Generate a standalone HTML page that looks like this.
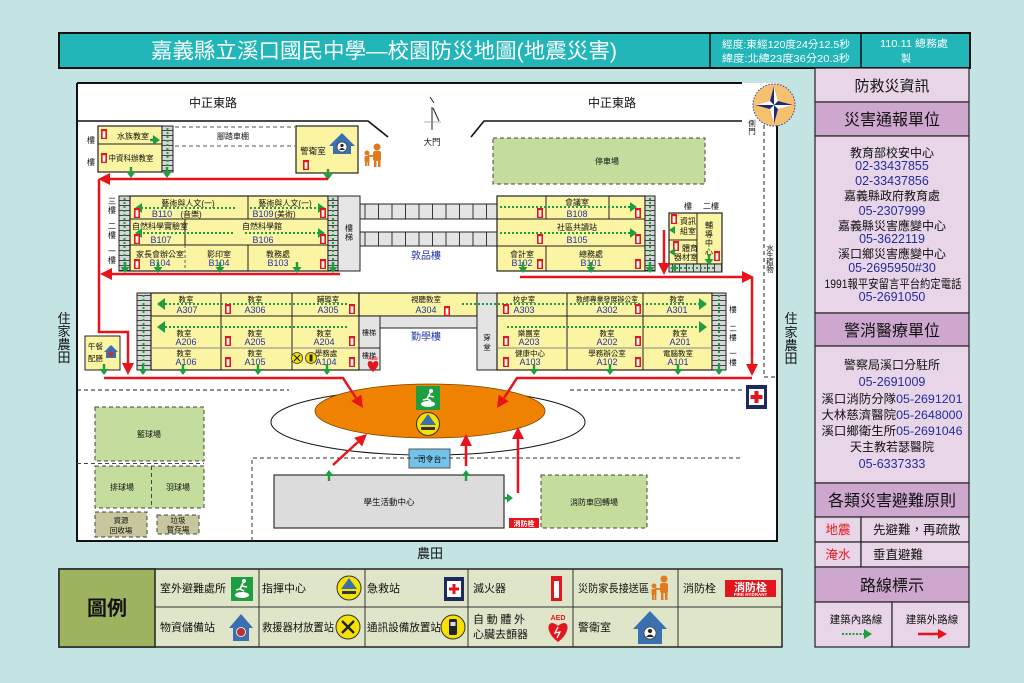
<!DOCTYPE html>
<html><head><meta charset="utf-8"><style>
html,body{margin:0;padding:0;background:#c4e4e4;}
svg{display:block;}
text{font-family:"Liberation Sans","Noto Sans CJK TC",sans-serif;}
</style></head><body>
<svg width="1024" height="683" viewBox="0 0 1024 683" xmlns="http://www.w3.org/2000/svg">
<defs>
 <g id="gd"><rect x="-1.2" y="-5" width="2.4" height="5" fill="#1e9e40"/><path d="M-4.5,0 H4.5 L0,6 Z" fill="#1e9e40"/></g>
 <g id="gu"><rect x="-1.2" y="0" width="2.4" height="5" fill="#1e9e40"/><path d="M-4.5,0 H4.5 L0,-6 Z" fill="#1e9e40"/></g>
 <g id="fe"><rect x="0" y="0" width="6" height="10" fill="#e3161d"/><rect x="1.6" y="2.2" width="2.8" height="6.6" fill="#fff"/></g>
 <pattern id="stV" width="14" height="5" patternUnits="userSpaceOnUse"><rect width="14" height="5" fill="#d6d6d6"/><line x1="0" y1="0.4" x2="14" y2="0.4" stroke="#222" stroke-width="0.8"/></pattern>
 <pattern id="stH" width="13.5" height="20" patternUnits="userSpaceOnUse"><rect width="13.5" height="20" fill="#e4e4e4"/><line x1="0.5" y1="0" x2="0.5" y2="20" stroke="#222" stroke-width="0.9"/></pattern>
 <pattern id="stH2" width="7" height="10" patternUnits="userSpaceOnUse"><rect width="7" height="10" fill="#d6d6d6"/><line x1="0.5" y1="0" x2="0.5" y2="10" stroke="#222" stroke-width="0.8"/></pattern>
</defs>

<!-- Header -->
<rect x="59" y="33" width="911" height="35" fill="#22b6b9" stroke="#111" stroke-width="2"/>
<line x1="710" y1="33" x2="710" y2="68" stroke="#111" stroke-width="1.5"/>
<line x1="861" y1="33" x2="861" y2="68" stroke="#111" stroke-width="1.5"/>
<text x="384" y="58" font-size="21" fill="#fff" text-anchor="middle" textLength="466" lengthAdjust="spacingAndGlyphs">嘉義縣立溪口國民中學—校園防災地圖(地震災害)</text>
<text x="786" y="48" font-size="10" fill="#fff" text-anchor="middle" textLength="128" lengthAdjust="spacingAndGlyphs">經度:東經120度24分12.5秒</text>
<text x="786" y="62" font-size="10" fill="#fff" text-anchor="middle" textLength="128" lengthAdjust="spacingAndGlyphs">緯度:北緯23度36分20.3秒</text>
<text x="914" y="47" font-size="10" fill="#fff" text-anchor="middle" textLength="68" lengthAdjust="spacingAndGlyphs">110.11 總務處</text>
<text x="906" y="62" font-size="10" fill="#fff" text-anchor="middle">製</text>

<!-- side labels -->
<g font-size="13" fill="#111" text-anchor="middle">
<text x="64" y="323">住</text><text x="64" y="336">家</text><text x="64" y="349">農</text><text x="64" y="362">田</text>
<text x="791" y="323">住</text><text x="791" y="337">家</text><text x="791" y="350">農</text><text x="791" y="363">田</text>
<text x="430" y="558">農田</text>
</g>

<!-- Map area -->
<rect x="77" y="83" width="700" height="458" fill="#fff"/>
<path d="M77,83 H742" stroke="#111" stroke-width="2"/>
<path d="M77,83 V541 H777 V120" stroke="#111" stroke-width="2" fill="none"/>
<g font-size="12" fill="#111" text-anchor="middle">
<text x="213" y="107">中正東路</text><text x="612" y="107">中正東路</text>
</g>
<path d="M77,121 H368 L388,137" stroke="#111" stroke-width="1.6" fill="none"/>
<path d="M471,137 L484,121 H742" stroke="#111" stroke-width="1.6" fill="none"/>
<!-- gate -->
<path d="M430,97 L434,103 M432,107 V130 M433,108 L439,121" stroke="#222" stroke-width="1" fill="none"/>
<line x1="424" y1="122" x2="441" y2="122" stroke="#999" stroke-width="0.8"/>
<text x="432" y="145" font-size="8.5" text-anchor="middle" fill="#111">大門</text>
<!-- side gate & dashed right -->
<g font-size="7.5" fill="#111" text-anchor="middle">
<text x="752" y="126">側</text><text x="752" y="134">門</text>
<text x="770" y="251">水</text><text x="770" y="258">生</text><text x="770" y="265">植</text><text x="770" y="272">物</text>
</g>
<path d="M764,125 V377 H776" stroke="#222" stroke-width="1" stroke-dasharray="4,3" fill="none"/>

<!-- compass -->
<circle cx="774" cy="105" r="21" fill="#f6c16e" stroke="#3a3aa0" stroke-width="1" stroke-dasharray="1.5,1.5"/>
<path d="M774,86 L778,101 L793,105 L778,109 L774,124 L770,109 L755,105 L770,101 Z" fill="#1c2a7c"/>
<path d="M774,86 L778,101 L774,105 Z M793,105 L778,109 L774,105 Z M774,124 L770,109 L774,105 Z M755,105 L770,101 L774,105 Z" fill="#fff"/>

<!-- parking -->
<rect x="493" y="138" width="212" height="46" fill="#c4dc9c" stroke="#444" stroke-dasharray="4,3"/>
<text x="607" y="164" font-size="8" text-anchor="middle" fill="#111">停車場</text>

<!-- bike shed -->
<path d="M175,127 H295 M175,146 H295" stroke="#555" stroke-dasharray="4,3" fill="none"/>
<text x="233" y="139" font-size="8" text-anchor="middle" fill="#111">腳踏車棚</text>

<!-- Building 1 top-left -->
<rect x="98" y="126" width="64" height="46" fill="#fbf4a2" stroke="#222" stroke-width="1.2"/>
<line x1="98" y1="144" x2="162" y2="144" stroke="#222"/>
<rect x="162" y="126" width="11" height="46" fill="url(#stV)" stroke="#222"/>
<line x1="167.5" y1="128" x2="167.5" y2="168" stroke="#1e9e40" stroke-width="2" stroke-dasharray="2,2"/>
<g font-size="8" text-anchor="middle" fill="#111">
<text x="133" y="139">水族教室</text>
<text x="131" y="161" textLength="45" lengthAdjust="spacingAndGlyphs">中資科辦教室</text>
<text x="91" y="143">樓</text><text x="91" y="165">樓</text>
</g>
<use href="#fe" x="101" y="129"/><use href="#fe" x="101" y="153"/>
<line x1="150" y1="140" x2="154" y2="140" stroke="#1e9e40" stroke-width="2.5"/>
<path d="M160,140 l-7,-5 v10 z" fill="#1e9e40"/>
<use href="#gd" x="131" y="172"/><use href="#gd" x="167" y="172"/>

<!-- Guard room -->
<rect x="296" y="126" width="62" height="47" fill="#fbf4a2" stroke="#222" stroke-width="1.2"/>
<text x="313" y="154" font-size="8.5" text-anchor="middle" fill="#111">警衛室</text>
<path d="M329,146 L342,133 L355,146 Z" fill="#3a6fb0"/>
<rect x="333" y="142" width="18" height="12" fill="#3a6fb0"/>
<circle cx="342" cy="147" r="5" fill="#fff" stroke="#222" stroke-width="0.6"/>
<circle cx="342" cy="145.5" r="1.6" fill="#222"/><path d="M339,150 Q342,146 345,150 Z" fill="#222"/>
<use href="#fe" x="303" y="160"/>
<use href="#gd" x="328" y="174"/>
<!-- parents icon -->
<g fill="#e07a1e">
<circle cx="377" cy="147" r="3.5"/><rect x="373" y="151" width="8" height="10" rx="2"/><rect x="374" y="160" width="2.5" height="7"/><rect x="378" y="160" width="2.5" height="7"/>
<circle cx="367" cy="153" r="2.5"/><rect x="364.5" y="156" width="5" height="6" rx="1.5"/><rect x="365" y="161" width="1.8" height="5"/><rect x="367.5" y="161" width="1.8" height="5"/>
<rect x="368" y="155" width="6" height="1.8"/>
</g>

<!-- Building B -->
<rect x="119" y="196" width="11" height="75" fill="url(#stV)" stroke="#222"/>
<rect x="130" y="196" width="198" height="75" fill="#fbf4a2" stroke="#222" stroke-width="1.2"/>
<rect x="328" y="196" width="10" height="75" fill="url(#stV)" stroke="#222"/>
<rect x="338" y="196" width="22" height="75" fill="#e6e6e6" stroke="#222"/>
<path d="M130,219 H328 M130,245 H328 M248,196 V219 M185,219 V245 M248,245 V271" stroke="#222" stroke-width="1" fill="none"/>
<line x1="185" y1="245" x2="185" y2="271" stroke="#666" stroke-dasharray="3,2"/>
<g font-size="8" text-anchor="middle" fill="#111">
<text x="349" y="231">樓</text><text x="349" y="240">梯</text>
<text x="112" y="204">三</text><text x="112" y="213">樓</text>
<text x="112" y="229">二</text><text x="112" y="238">樓</text>
<text x="112" y="254">一</text><text x="112" y="263">樓</text>
<text x="188" y="206">藝術與人文(一)</text>
<text x="285" y="206">藝術與人文(一)</text>
<text x="160" y="229">自然科學實驗室</text>
<text x="262" y="229">自然科學館</text>
<text x="160" y="257">家長會辦公室</text>
<text x="219" y="257">影印室</text>
<text x="278" y="257">教務處</text>
<text x="285" y="217">(美術)</text>
<text x="191" y="217">(音樂)</text>
</g>
<g font-size="9" text-anchor="middle" fill="#2233aa">
<text x="162" y="217">B110</text><text x="263" y="217">B109</text>
<text x="161" y="243">B107</text><text x="263" y="243">B106</text>
<text x="160" y="266">B104</text><text x="219" y="266">B104</text><text x="278" y="266">B103</text>
</g>
<g stroke="#1e9e40" stroke-width="2" stroke-dasharray="2,2" fill="none">
<path d="M235,208 H141 M250,208 H319 M233,233 H141 M245,233 H319"/>
<path d="M124.5,198 V266 M333,198 V266"/>
</g>
<g fill="#1e9e40">
<path d="M135,208 l7,-5 v10 z"/><path d="M325,208 l-7,-5 v10 z"/>
<path d="M135,233 l7,-5 v10 z"/><path d="M325,233 l-7,-5 v10 z"/>
</g>
<use href="#fe" x="134" y="208"/><use href="#fe" x="320" y="208"/>
<use href="#fe" x="134" y="234"/><use href="#fe" x="320" y="234"/>
<use href="#fe" x="134" y="259"/><use href="#fe" x="320" y="259"/>

<!-- corridors -->
<rect x="360" y="204" width="137" height="15" fill="url(#stH)" stroke="#222"/>
<rect x="360" y="232" width="137" height="14" fill="url(#stH)" stroke="#222"/>
<text x="426" y="259" font-size="10" text-anchor="middle" fill="#2233aa">敦品樓</text>

<!-- Building D -->
<rect x="497" y="196" width="148" height="75" fill="#fbf4a2" stroke="#222" stroke-width="1.2"/>
<rect x="645" y="196" width="10" height="75" fill="url(#stV)" stroke="#222"/>
<path d="M497,219 H645 M497,246 H645 M546,196 V219 M609,196 V219 M546,246 V271" stroke="#222" fill="none"/>
<g font-size="8" text-anchor="middle" fill="#111">
<text x="577" y="205">會議室</text>
<text x="577" y="230">社區共讀站</text>
<text x="522" y="257">會計室</text>
<text x="591" y="257">總務處</text>
</g>
<g font-size="9" text-anchor="middle" fill="#2233aa">
<text x="577" y="217">B108</text><text x="577" y="243">B105</text>
<text x="522" y="266">B102</text><text x="591" y="266">B101</text>
</g>
<g stroke="#1e9e40" stroke-width="2" stroke-dasharray="2,2" fill="none">
<path d="M500,207 H631 M500,233 H631 M650,198 V266"/>
</g>
<g fill="#1e9e40"><path d="M637,207 l-7,-5 v10 z"/><path d="M637,233 l-7,-5 v10 z"/></g>
<use href="#fe" x="537" y="208"/><use href="#fe" x="635" y="208"/>
<use href="#fe" x="537" y="234"/><use href="#fe" x="635" y="234"/>
<use href="#fe" x="537" y="259"/><use href="#fe" x="635" y="259"/>

<!-- Building E -->
<rect x="669" y="213" width="53" height="51" fill="#fbf4a2" stroke="#222" stroke-width="1.2"/>
<path d="M697,213 V264 M669,240 H697" stroke="#222" fill="none"/>
<rect x="669" y="264" width="53" height="8" fill="url(#stH2)" stroke="#222"/>
<g font-size="8" text-anchor="middle" fill="#111">
<text x="688" y="209">樓</text><text x="711" y="209">二樓</text>
<text x="688" y="224">資訊</text><text x="688" y="234">組室</text>
<text x="690" y="251">體育</text><text x="686" y="260">器材室</text>
<text x="709" y="228">輔</text><text x="709" y="237">導</text><text x="709" y="246">中</text><text x="709" y="255">心</text>
</g>
<use href="#fe" x="671" y="214"/><use href="#fe" x="673" y="241"/><use href="#fe" x="714" y="251"/>
<g fill="#1e9e40"><path d="M669,230 l6,-4 v8 z"/><path d="M669,252 l6,-4 v8 z"/><path d="M670,268 l6,-4 v8 z"/></g>
<line x1="676" y1="268" x2="715" y2="268" stroke="#1e9e40" stroke-width="2" stroke-dasharray="2,2"/>
<use href="#gd" x="709" y="259"/>

<!-- bottom arrows of B / D -->
<use href="#gd" x="125" y="267"/><use href="#gd" x="158" y="267"/><use href="#gd" x="220" y="267"/><use href="#gd" x="297" y="267"/><use href="#gd" x="333" y="267"/>
<use href="#gd" x="523" y="267"/><use href="#gd" x="591" y="267"/><use href="#gd" x="650" y="267"/>

<!-- Building A left -->
<rect x="137" y="293" width="14" height="77" fill="url(#stV)" stroke="#222"/>
<rect x="151" y="293" width="208" height="77" fill="#fbf4a2" stroke="#222" stroke-width="1.2"/>
<path d="M151,316 H359 M221,293 V370 M292,293 V370" stroke="#222" fill="none"/>
<line x1="151" y1="348" x2="359" y2="348" stroke="#888"/>
<!-- middle -->
<rect x="359" y="293" width="118" height="23" fill="#fbf4a2" stroke="#222" stroke-width="1.2"/>
<rect x="359" y="316" width="21" height="54" fill="#e4e4e4" stroke="#222"/>
<line x1="359" y1="348" x2="380" y2="348" stroke="#222"/>
<rect x="380" y="316" width="97" height="12" fill="#e4e4e4" stroke="#222"/>
<rect x="477" y="293" width="20" height="77" fill="#e4e4e4" stroke="#222"/>
<text x="426" y="340" font-size="10" text-anchor="middle" fill="#2233aa">勤學樓</text>
<!-- right -->
<rect x="497" y="293" width="215" height="77" fill="#fbf4a2" stroke="#222" stroke-width="1.2"/>
<rect x="712" y="293" width="14" height="77" fill="url(#stV)" stroke="#222"/>
<path d="M497,316 H712 M567,293 V370 M643,293 V370" stroke="#222" fill="none"/>
<line x1="497" y1="348" x2="712" y2="348" stroke="#888"/>
<g font-size="7.5" text-anchor="middle" fill="#111">
<text x="186" y="302">教室</text><text x="255" y="302">教室</text><text x="328" y="302">輔導室</text>
<text x="426" y="302">視聽教室</text>
<text x="524" y="302">校史室</text><text x="607" y="302" textLength="62" lengthAdjust="spacingAndGlyphs">教師專業發展辦公室</text><text x="677" y="302">教室</text>
<text x="184" y="336">教室</text><text x="255" y="336">教室</text><text x="324" y="336">教室</text>
<text x="529" y="336">樂團室</text><text x="607" y="336">教室</text><text x="680" y="336">教室</text>
<text x="184" y="356">教室</text><text x="255" y="356">教室</text><text x="326" y="356">學務處</text>
<text x="530" y="356">健康中心</text><text x="607" y="356">學務辦公室</text><text x="678" y="356">電腦教室</text>
<text x="369" y="335" font-size="7">樓梯</text><text x="369" y="358" font-size="7">樓梯</text>
<text x="487" y="340">穿</text><text x="487" y="350">堂</text>
<text x="733" y="312">樓</text>
<text x="733" y="331">二</text><text x="733" y="340">樓</text>
<text x="733" y="356">一</text><text x="733" y="365">樓</text>
</g>
<g font-size="9" text-anchor="middle" fill="#2233aa">
<text x="187" y="313">A307</text><text x="255" y="313">A306</text><text x="328" y="313">A305</text>
<text x="426" y="313">A304</text>
<text x="524" y="313">A303</text><text x="607" y="313">A302</text><text x="677" y="313">A301</text>
<text x="186" y="345">A206</text><text x="255" y="345">A205</text><text x="324" y="345">A204</text>
<text x="529" y="345">A203</text><text x="607" y="345">A202</text><text x="680" y="345">A201</text>
<text x="186" y="365">A106</text><text x="255" y="365">A105</text><text x="326" y="365">A104</text>
<text x="530" y="365">A103</text><text x="607" y="365">A102</text><text x="678" y="365">A101</text>
</g>
<circle cx="297" cy="358" r="5.5" fill="#f6e200" stroke="#333" stroke-width="0.8"/>
<circle cx="311" cy="358" r="5.5" fill="#f6e200" stroke="#333" stroke-width="0.8"/>
<rect x="309.5" y="354.5" width="3" height="7" fill="#222"/>
<path d="M294,355 L300,361 M300,355 L294,361" stroke="#222" stroke-width="1.2"/>
<g stroke="#1e9e40" stroke-width="2" stroke-dasharray="2,2" fill="none">
<path d="M347,304 H164 M347,327 H164 M462,304 H700 M507,327 H700 M143.5,295 V366 M719,295 V366"/>
</g>
<g fill="#1e9e40">
<path d="M157,304 l8,-6 v12 z"/><path d="M157,327 l8,-6 v12 z"/>
<path d="M707,304 l-8,-6 v12 z"/><path d="M707,327 l-8,-6 v12 z"/>
</g>
<use href="#fe" x="225" y="304"/><use href="#fe" x="349" y="304"/><use href="#fe" x="444" y="306"/>
<use href="#fe" x="225" y="336"/><use href="#fe" x="349" y="336"/>
<use href="#fe" x="225" y="357"/><use href="#fe" x="349" y="357"/>
<use href="#fe" x="503" y="304"/><use href="#fe" x="635" y="304"/>
<use href="#fe" x="503" y="336"/><use href="#fe" x="635" y="336"/>
<use href="#fe" x="503" y="357"/><use href="#fe" x="635" y="357"/>
<!-- AED small -->
<path d="M373,372 C366,366 367,361 370,361 C372,361 373,363 373,363 C373,363 374,361 376,361 C379,361 380,366 373,372 Z" fill="#e3161d"/>
<text x="373" y="360" font-size="4.5" text-anchor="middle" fill="#e3161d" font-weight="bold">AED</text>

<!-- small box left -->
<rect x="85" y="336" width="35" height="34" fill="#fbf4a2" stroke="#222"/>
<g font-size="7.5" fill="#111"><text x="88" y="349">午餐</text><text x="88" y="361">配膳</text></g>
<path d="M104,352 L111,345 L118,352 Z" fill="#3a6fb0"/><rect x="106" y="351" width="10" height="7" fill="#3a6fb0"/><circle cx="111" cy="354" r="2.5" fill="#c03030"/>

<use href="#gd" x="104" y="369"/><use href="#gd" x="143" y="369"/><use href="#gd" x="183" y="369"/><use href="#gd" x="258" y="369"/><use href="#gd" x="327" y="369"/>
<use href="#gd" x="534" y="369"/><use href="#gd" x="610" y="369"/><use href="#gd" x="678" y="369"/><use href="#gd" x="719" y="369"/>

<!-- dashed line -->
<path d="M77,390 H289 M570,390 H742" stroke="#222" stroke-dasharray="4,3" fill="none"/>

<!-- Ellipses -->
<ellipse cx="428" cy="422" rx="157" ry="33" fill="none" stroke="#111" stroke-width="1"/>
<ellipse cx="430" cy="411" rx="115" ry="27" fill="#ef8200" stroke="#7a4200" stroke-width="0.8"/>
<rect x="416" y="386" width="24" height="24" fill="#1e9e40"/>
<ellipse cx="428" cy="404" rx="7" ry="3" fill="#fff"/>
<circle cx="431" cy="391" r="2" fill="#fff"/>
<path d="M430,393 L427,399 L431,401 M429,396 L434,397 M427,399 L423,400" stroke="#fff" stroke-width="1.6" fill="none"/>
<circle cx="428" cy="424" r="11.5" fill="#f6e200" stroke="#333"/>
<path d="M420,425 L428,414 L436,425 Z" fill="#3a6fb0"/>
<rect x="421" y="427" width="14" height="3" fill="#333"/>

<!-- 司令台 -->
<rect x="409" y="449" width="41" height="19" fill="#72c2ec" stroke="#555"/>
<text x="429.5" y="462" font-size="8" text-anchor="middle" fill="#111">司令台</text>

<!-- activity zone -->
<path d="M252,541 V458 H741" stroke="#333" stroke-dasharray="4,3" fill="none"/>
<rect x="274" y="475" width="230" height="53" fill="#dcdcdc" stroke="#333" stroke-width="1.2"/>
<text x="389" y="505" font-size="8.5" text-anchor="middle" fill="#111">學生活動中心</text>
<use href="#gu" x="329" y="476"/><use href="#gu" x="466" y="476"/>
<rect x="503" y="497" width="5" height="2.4" fill="#1e9e40"/><path d="M513,498 l-6,-4.5 v9 z" fill="#1e9e40"/>
<rect x="509" y="518" width="30" height="10" fill="#e3161d"/>
<text x="524" y="526" font-size="7" font-weight="bold" text-anchor="middle" fill="#fff">消防栓</text>
<rect x="541" y="475" width="106" height="53" fill="#c4dc9c" stroke="#444" stroke-dasharray="4,3"/>
<text x="594" y="505" font-size="8" text-anchor="middle" fill="#111">消防車回轉場</text>

<!-- left fields -->
<rect x="95" y="407" width="109" height="54" fill="#c4dc9c" stroke="#444" stroke-dasharray="4,3"/>
<text x="149" y="437" font-size="8" text-anchor="middle" fill="#111">籃球場</text>
<path d="M77,463.5 H204" stroke="#444" stroke-dasharray="4,3"/>
<rect x="95" y="466" width="109" height="42" fill="#c4dc9c" stroke="#444" stroke-dasharray="4,3"/>
<path d="M151.5,466 V508" stroke="#444" stroke-dasharray="4,3"/>
<text x="122" y="490" font-size="8" text-anchor="middle" fill="#111">排球場</text>
<text x="178" y="490" font-size="8" text-anchor="middle" fill="#111">羽球場</text>
<rect x="95" y="512" width="52" height="25" fill="#c8c69c" stroke="#444" stroke-dasharray="4,3"/>
<text x="121" y="523" font-size="7.5" text-anchor="middle" fill="#111">資源</text>
<text x="121" y="533" font-size="7.5" text-anchor="middle" fill="#111">回收場</text>
<rect x="157" y="515" width="42" height="19" fill="#c8c69c" stroke="#444" stroke-dasharray="4,3"/>
<text x="178" y="523" font-size="7.5" text-anchor="middle" fill="#111">垃圾</text>
<text x="178" y="532" font-size="7.5" text-anchor="middle" fill="#111">暫存場</text>

<!-- first aid right -->
<rect x="746" y="385" width="21" height="24" fill="#1c2a5c"/>
<rect x="749" y="389" width="15" height="16" fill="#fff"/>
<path d="M754.5,391 h4 v4 h4 v4 h-4 v4 h-4 v-4 h-4 v-4 h4 z" fill="#e3161d"/>

<!-- RED routes -->
<g stroke="#e8141c" stroke-width="2.5" fill="none">
<path d="M328,179 H108"/>
<path d="M99,179 V332 H128 V364"/>
<path d="M340,274 H110"/>
<path d="M520,277 H742"/>
<path d="M752,277 V364"/>
<path d="M664,230 V264"/>
<path d="M104,378 H343 L356,398"/>
<path d="M752,378 H517 L504,398"/>
<path d="M333,465 L358,442"/>
<path d="M466,466 V445"/>
<path d="M518,493 V438"/>
</g>
<g fill="#e8141c">
<path d="M98,179 l12,-6 v12 z"/>
<path d="M100,274 l12,-6 v12 z"/>
<path d="M128,375 l-6,-12 h12 z"/>
<path d="M754,277 l-12,-6 v12 z"/>
<path d="M752,376 l-6,-12 h12 z"/>
<path d="M664,275 l-6,-12 h12 z"/>
<path d="M363,408 L351.3,401.3 L361.3,394.7 Z"/>
<path d="M497,408 L498.7,394.7 L508.7,401.3 Z"/>
<path d="M367,434 L362.1,446.5 L354.1,437.7 Z"/>
<path d="M466,434 l-6,12 h12 z"/>
<path d="M518,427 l-6,12 h12 z"/>
</g>

<!-- Right panel -->
<g stroke="#222" stroke-width="1.2">
<rect x="815" y="68" width="154" height="34" fill="#e8d5e8"/>
<rect x="815" y="102" width="154" height="34" fill="#cea7cf"/>
<rect x="815" y="136" width="154" height="177" fill="#e8d5e8"/>
<rect x="815" y="313" width="154" height="33" fill="#cea7cf"/>
<rect x="815" y="346" width="154" height="137" fill="#e8d5e8"/>
<rect x="815" y="483" width="154" height="34" fill="#cea7cf"/>
<rect x="815" y="517" width="46" height="25" fill="#e8d5e8"/>
<rect x="861" y="517" width="108" height="25" fill="#e8d5e8"/>
<rect x="815" y="542" width="46" height="25" fill="#e8d5e8"/>
<rect x="861" y="542" width="108" height="25" fill="#e8d5e8"/>
<rect x="815" y="567" width="154" height="35" fill="#cea7cf"/>
<rect x="815" y="602" width="77" height="45" fill="#e8d5e8"/>
<rect x="892" y="602" width="77" height="45" fill="#e8d5e8"/>
</g>
<g text-anchor="middle" fill="#111">
<text x="892" y="91" font-size="15">防救災資訊</text>
<text x="892" y="125" font-size="16">災害通報單位</text>
<text x="892" y="336" font-size="16">警消醫療單位</text>
<text x="892" y="506" font-size="16">各類災害避難原則</text>
<text x="892" y="591" font-size="16">路線標示</text>
</g>
<g text-anchor="middle" font-size="12">
<text x="892" y="157" fill="#111">教育部校安中心</text>
<text x="892" y="170" fill="#232d9c" font-size="12.5">02-33437855</text>
<text x="892" y="185" fill="#232d9c" font-size="12.5">02-33437856</text>
<text x="892" y="200" fill="#111">嘉義縣政府教育處</text>
<text x="892" y="215" fill="#232d9c" font-size="12.5">05-2307999</text>
<text x="892" y="230" fill="#111">嘉義縣災害應變中心</text>
<text x="892" y="243" fill="#232d9c" font-size="12.5">05-3622119</text>
<text x="892" y="258" fill="#111">溪口鄉災害應變中心</text>
<text x="892" y="272" fill="#232d9c" font-size="12.5">05-2695950#30</text>
<text x="893" y="288" fill="#111" textLength="137" lengthAdjust="spacingAndGlyphs">1991報平安留言平台約定電話</text>
<text x="892" y="301" fill="#232d9c" font-size="12.5">05-2691050</text>
<text x="892" y="369" fill="#111">警察局溪口分駐所</text>
<text x="892" y="386" fill="#232d9c" font-size="12.5">05-2691009</text>
<text x="892" y="403" textLength="141" lengthAdjust="spacingAndGlyphs"><tspan fill="#111">溪口消防分隊</tspan><tspan fill="#232d9c">05-2691201</tspan></text>
<text x="892" y="419" textLength="141" lengthAdjust="spacingAndGlyphs"><tspan fill="#111">大林慈濟醫院</tspan><tspan fill="#232d9c">05-2648000</tspan></text>
<text x="892" y="435" textLength="141" lengthAdjust="spacingAndGlyphs"><tspan fill="#111">溪口鄉衛生所</tspan><tspan fill="#232d9c">05-2691046</tspan></text>
<text x="892" y="451" fill="#111">天主教若瑟醫院</text>
<text x="892" y="468" fill="#232d9c" font-size="12.5">05-6337333</text>
</g>
<g font-size="12.5">
<text x="838" y="534" text-anchor="middle" fill="#e3161d">地震</text>
<text x="838" y="559" text-anchor="middle" fill="#e3161d">淹水</text>
<text x="873" y="534" fill="#111">先避難，再疏散</text>
<text x="873" y="559" fill="#111">垂直避難</text>
</g>
<g font-size="10.5" text-anchor="middle" fill="#111">
<text x="856" y="623">建築內路線</text>
<text x="932" y="623">建築外路線</text>
</g>
<line x1="842" y1="634" x2="864" y2="634" stroke="#1e9e40" stroke-width="2" stroke-dasharray="2,1.5"/>
<path d="M872,634 l-8,-5 v10 z" fill="#1e9e40"/>
<line x1="918" y1="634" x2="939" y2="634" stroke="#e8141c" stroke-width="2.5"/>
<path d="M947,634 l-9,-5 v10 z" fill="#e8141c"/>

<!-- Legend -->
<rect x="59" y="569" width="723" height="78" fill="#dfe5c8" stroke="#222" stroke-width="1.5"/>
<rect x="59" y="569" width="96" height="78" fill="#9db35f" stroke="#222" stroke-width="1.5"/>
<g stroke="#333" stroke-width="1">
<path d="M259,569 V647 M365,569 V647 M468,569 V647 M573,569 V647 M678,569 V647 M155,607 H782"/>
</g>
<text x="107" y="615" font-size="20" text-anchor="middle" fill="#111" font-weight="bold">圖例</text>
<g font-size="11" fill="#111">
<text x="160" y="592">室外避難處所</text>
<text x="262" y="592">指揮中心</text>
<text x="367" y="592">急救站</text>
<text x="473" y="592">滅火器</text>
<text x="578" y="592" textLength="71" lengthAdjust="spacingAndGlyphs">災防家長接送區</text>
<text x="683" y="592">消防栓</text>
<text x="160" y="631">物資儲備站</text>
<text x="262" y="631" textLength="72" lengthAdjust="spacingAndGlyphs">救援器材放置站</text>
<text x="367" y="631" textLength="74" lengthAdjust="spacingAndGlyphs">通訊設備放置站</text>
<text x="473" y="623" textLength="52" lengthAdjust="spacing">自動體外</text>
<text x="473" y="638">心臟去顫器</text>
<text x="578" y="631">警衛室</text>
</g>
<!-- legend icons -->
<rect x="231" y="577" width="22" height="24" fill="#1e9e40"/>
<ellipse cx="242" cy="595" rx="7" ry="3" fill="#fff"/>
<circle cx="244" cy="581" r="2" fill="#fff"/>
<path d="M243,583 L240,589 L244,591 M242,586 L247,587 M240,589 L236,590" stroke="#fff" stroke-width="1.6" fill="none"/>
<circle cx="349" cy="588" r="12" fill="#f6e200" stroke="#333"/>
<path d="M341,589 L349,578 L357,589 Z" fill="#3a6fb0"/>
<rect x="342" y="591" width="14" height="3" fill="#333"/>
<rect x="444" y="577" width="20" height="24" fill="#1c2a5c"/>
<rect x="447" y="581" width="14" height="16" fill="#fff"/>
<path d="M452.5,584 h3 v3.5 h3.5 v3 h-3.5 v3.5 h-3 v-3.5 h-3.5 v-3 h3.5 z" fill="#e3161d"/>
<rect x="551" y="576" width="11" height="25" fill="#e3161d"/>
<rect x="554" y="581" width="5" height="17" fill="#fff"/>
<g fill="#e07a1e">
<circle cx="664" cy="579" r="3.5"/><rect x="660" y="583" width="8" height="10" rx="2"/><rect x="661" y="592" width="2.5" height="8"/><rect x="665" y="592" width="2.5" height="8"/>
<circle cx="654" cy="586" r="2.5"/><rect x="651.5" y="589" width="5" height="6" rx="1.5"/><rect x="652" y="594" width="1.8" height="6"/><rect x="654.5" y="594" width="1.8" height="6"/>
<rect x="655" y="588" width="6" height="1.8"/>
</g>
<rect x="725" y="580" width="51" height="17" fill="#e3161d"/>
<text x="750.5" y="591" font-size="11" font-weight="bold" text-anchor="middle" fill="#fff">消防栓</text>
<text x="750.5" y="596" font-size="4.5" font-weight="bold" text-anchor="middle" fill="#fff">FIRE HYDRANT</text>
<!-- row 2 icons -->
<path d="M229,628 L241,614 L253,628 Z" fill="#3a6fb0"/>
<rect x="233" y="626" width="16" height="15" fill="#3a6fb0"/>
<circle cx="241" cy="632" r="4.5" fill="#b83030" stroke="#fff" stroke-width="0.8"/>
<circle cx="348" cy="627" r="12" fill="#f6e200" stroke="#333"/>
<path d="M342,621 L354,633 M354,621 L342,633" stroke="#222" stroke-width="2.4"/>
<circle cx="453" cy="627" r="12" fill="#f6e200" stroke="#333"/>
<rect x="449" y="619" width="8" height="16" rx="1.5" fill="#222"/>
<rect x="450.5" y="622" width="5" height="4" fill="#ddd"/>
<text x="558" y="620" font-size="7" font-weight="bold" text-anchor="middle" fill="#e3161d">AED</text>
<path d="M558,642 C546,633 547,623 552,623 C555,623 558,626 558,626 C558,626 561,623 564,623 C569,623 570,633 558,642 Z" fill="#e3161d"/>
<path d="M558,627 L555,633 L560,632 L557,638" stroke="#fff" stroke-width="1.3" fill="none"/>
<path d="M633,629 L650,611 L667,629 Z" fill="#3a6fb0"/>
<rect x="638" y="627" width="24" height="17" fill="#3a6fb0"/>
<circle cx="650" cy="633" r="6" fill="#fff" stroke="#222" stroke-width="0.6"/>
<circle cx="650" cy="631" r="2" fill="#222"/><path d="M646,637 Q650,632 654,637 Z" fill="#222"/>
</svg>
</body></html>
